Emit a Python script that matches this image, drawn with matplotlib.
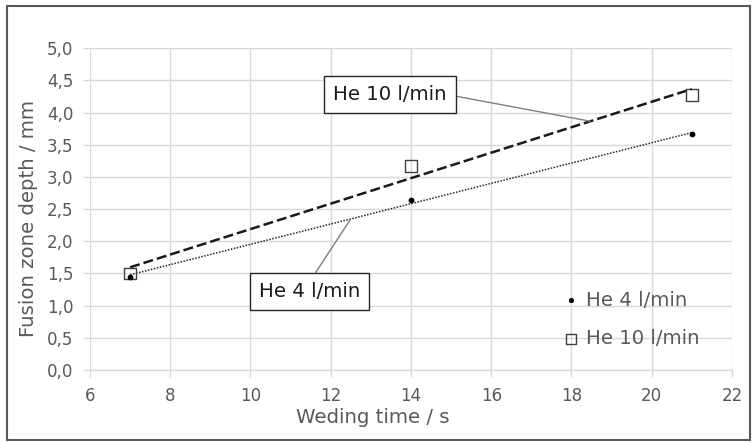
import numpy as np
import matplotlib
matplotlib.use("Agg")
import matplotlib.pyplot as plt
from matplotlib.ticker import FuncFormatter
from matplotlib.patches import Rectangle

plt.rcParams['font.family'] = ['DejaVu Sans']

# Data
weld_time = [7, 14, 21]
depth_he4 = [1.45, 2.64, 3.66]
depth_he10 = [1.50, 3.17, 4.27]
series_names = ["He 4 l/min", "He 10 l/min"]
x_ticks = [6, 8, 10, 12, 14, 16, 18, 20, 22]
y_ticks = [0.0, 0.5, 1.0, 1.5, 2.0, 2.5, 3.0, 3.5, 4.0, 4.5, 5.0]

gray_txt = '#595959'
grid_c = '#d9d9d9'

fig = plt.figure(figsize=(7.53, 4.42), dpi=100)
ax = fig.add_axes([0.1195, 0.163, 0.8525, 0.728])

# trend lines (linear fits)
x = np.array(weld_time, dtype=float)
p4 = np.polyfit(x, depth_he4, 1)
p10 = np.polyfit(x, depth_he10, 1)
xl = np.array([x.min(), x.max()])
ax.plot(xl, np.polyval(p10, xl), color='#1a1a1a', lw=1.8, ls=(0, (4.0, 1.6)), zorder=3)
ax.plot(xl, np.polyval(p4, xl), color='#262626', lw=1.1, ls=(0, (1, 1)), zorder=3)

# markers
ax.scatter(weld_time, depth_he4, s=10, color='black', zorder=5, label=series_names[0])
ax.scatter(weld_time, depth_he10, s=70, marker='s', facecolor='none',
           edgecolor='#404040', linewidth=1.0, zorder=4, label=series_names[1])

ax.set_xlim(6, 22)
ax.set_ylim(0, 5)
ax.set_xticks(x_ticks)
ax.set_yticks(y_ticks)
ax.yaxis.set_major_formatter(FuncFormatter(lambda v, p: f"{v:.1f}".replace('.', ',')))
ax.grid(True, color=grid_c, lw=1.0)
ax.set_axisbelow(True)
for s in ['top', 'right', 'left']:
    ax.spines[s].set_visible(False)
ax.spines['bottom'].set_color(grid_c)
ax.spines['bottom'].set_linewidth(1.0)
ax.tick_params(axis='both', colors=grid_c, labelcolor=gray_txt, labelsize=12, length=5, width=1.0)
ax.tick_params(axis='x', pad=7)
ax.tick_params(axis='y', pad=7)

ax.set_xlabel("Weding time / s", fontsize=14.2, color=gray_txt)
ax.set_ylabel("Fusion zone depth / mm", fontsize=14.2, color=gray_txt)
ax.xaxis.set_label_coords(0.44, -0.118)
ax.yaxis.set_label_coords(-0.0816, 0.472)

# callout labels
box = dict(boxstyle='square,pad=0.45', facecolor='white', edgecolor='#262626', lw=1.0)
x10 = 18.47
ax.annotate(series_names[1], xy=(x10, np.polyval(p10, x10)), xytext=(13.48, 4.28),
            ha='center', va='center', fontsize=14.2, color='#1a1a1a', bbox=box,
            arrowprops=dict(arrowstyle='-', color='#7f7f7f', lw=1.0, relpos=(1, 0.5),
                            shrinkA=0, shrinkB=0), zorder=6)
x4 = 12.5
ax.annotate(series_names[0], xy=(x4, np.polyval(p4, x4)), xytext=(11.47, 1.22),
            ha='center', va='center', fontsize=14.2, color='#1a1a1a', bbox=box,
            arrowprops=dict(arrowstyle='-', color='#7f7f7f', lw=1.0, relpos=(0.5, 1),
                            shrinkA=0, shrinkB=0), zorder=6)

leg = ax.legend(loc='center left', bbox_to_anchor=(0.716, 0.157), frameon=False,
                fontsize=14.2, handletextpad=0.17, labelspacing=1.0, borderpad=0,
                handlelength=1.2, markerscale=0.85)
for t in leg.get_texts():
    t.set_color(gray_txt)

# outer border
fig.patches.append(Rectangle((0.009, 0.004), 0.987, 0.982, transform=fig.transFigure,
                             fill=False, edgecolor='#595959', lw=1.5))

fig.savefig("out.png", dpi=100)
